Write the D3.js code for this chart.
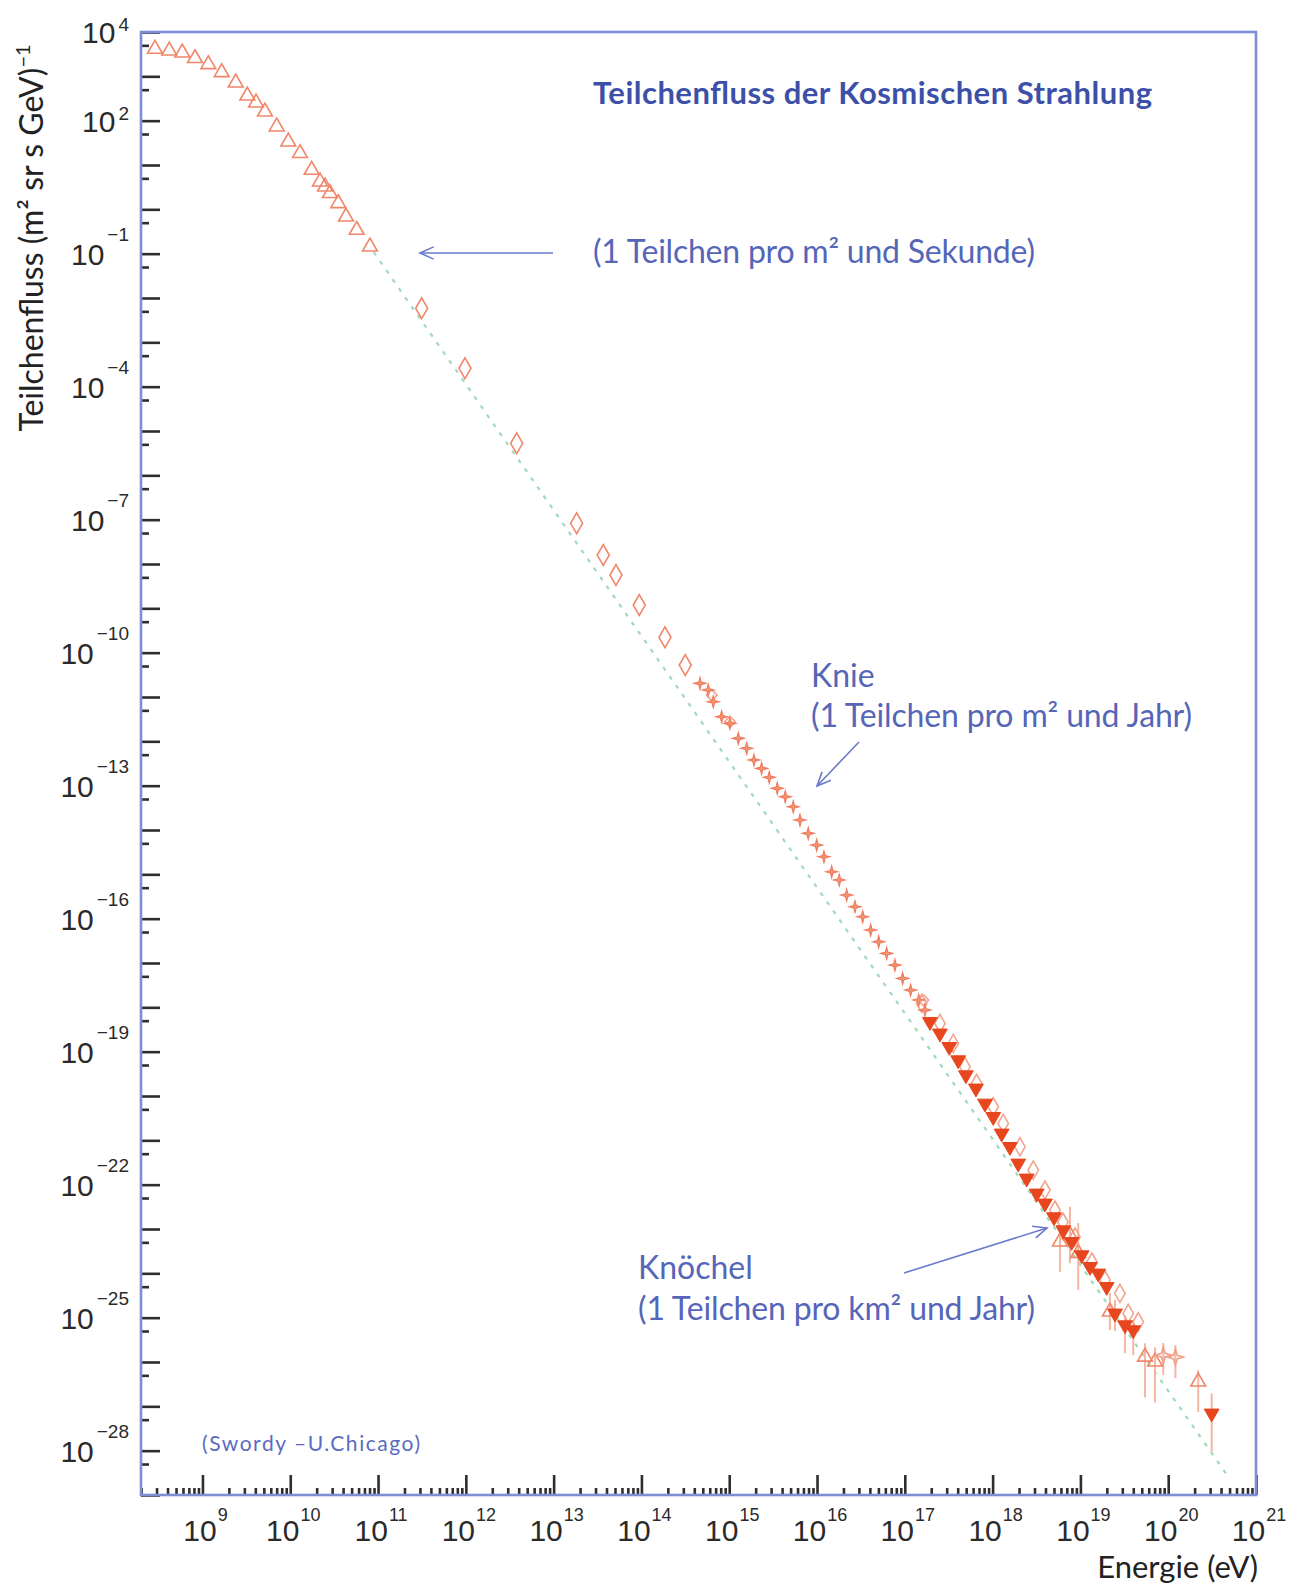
<!DOCTYPE html>
<html><head><meta charset="utf-8">
<script src="https://cdn.jsdelivr.net/npm/d3@7"></script>
<style>html,body{margin:0;padding:0;background:#fff}svg{display:block}</style>
</head><body>
<svg id="c" width="1292" height="1584"></svg>
<script>
// ---------- data (log10 of energy in eV, log10 of flux) ----------
const triLowLogE = [8.459, 8.622, 8.770, 8.915, 9.067, 9.219, 9.379, 9.511, 9.610, 9.712, 9.846, 9.978, 10.111, 10.244, 10.339, 10.396, 10.452, 10.547, 10.635, 10.757, 10.908];
const triLowLogF = [3.617, 3.578, 3.533, 3.407, 3.271, 3.091, 2.856, 2.563, 2.405, 2.202, 1.864, 1.525, 1.264, 0.887, 0.623, 0.510, 0.362, 0.136, -0.167, -0.467, -0.844];

const diamondLogE = [11.497, 11.990, 12.579, 13.262, 13.565, 13.710, 13.975, 14.268, 14.499];
const diamondLogF = [-2.233, -3.586, -5.278, -7.083, -7.798, -8.249, -8.926, -9.654, -10.279];

const starLogE = [14.667, 14.761, 14.818, 14.914, 15.008, 15.103, 15.199, 15.282, 15.369, 15.456, 15.547, 15.638, 15.729, 15.806, 15.900, 15.996, 16.079, 16.167, 16.253, 16.338, 16.432, 16.520, 16.611, 16.702, 16.793, 16.887, 16.975, 17.066, 17.158, 17.229];
const starLogF = [-10.692, -10.843, -11.107, -11.445, -11.595, -11.933, -12.158, -12.422, -12.610, -12.812, -13.061, -13.250, -13.476, -13.776, -14.076, -14.340, -14.604, -14.942, -15.129, -15.468, -15.731, -15.957, -16.257, -16.521, -16.783, -17.047, -17.347, -17.611, -17.836, -18.062];

const kneeOpenLogE = [14.800, 15.008, 17.210];
const kneeOpenLogF = [-10.956, -11.558, -17.836];

const openDiaLogE = [17.192, 17.400, 17.552, 17.685, 17.818, 18.007, 18.121, 18.311, 18.463, 18.596, 18.710, 18.801, 18.938, 19.131, 19.280, 19.450, 19.545, 19.659];
const openDiaLogF = [-17.911, -18.362, -18.813, -19.341, -19.715, -20.243, -20.618, -21.145, -21.671, -22.122, -22.573, -22.844, -23.182, -23.746, -24.152, -24.452, -24.904, -25.093];

const filledLogE = [17.286, 17.400, 17.506, 17.608, 17.696, 17.810, 17.913, 18.007, 18.103, 18.197, 18.292, 18.388, 18.502, 18.596, 18.699, 18.805, 18.900, 19.014, 19.109, 19.203, 19.299, 19.394, 19.508, 19.602, 20.495];
const filledLogF = [-18.325, -18.587, -18.890, -19.190, -19.528, -19.828, -20.167, -20.469, -20.843, -21.146, -21.520, -21.858, -22.197, -22.422, -22.731, -23.025, -23.288, -23.588, -23.852, -24.001, -24.303, -24.903, -25.167, -25.280, -27.159];
const filledErrHi = [null, null, null, null, null, null, null, null, null, null, null, null, null, null, null, null, null, null, null, null, null, -24.60, -24.95, -25.05, -26.708];
const filledErrLo = [null, null, null, null, null, null, null, null, null, null, null, null, null, null, null, null, null, null, null, null, null, -25.30, -25.80, -25.85, -28.025];

const triErrLogE = [18.767, 18.881, 18.975, 19.336, 19.735, 19.849, 20.342];
const triErrLogF = [-23.288, -23.137, -23.543, -24.867, -25.883, -25.995, -26.446];
const triErrHi = [-23.025, -22.499, -22.867, -24.446, -25.580, -25.671, -26.190];
const triErrLo = [-23.972, -23.776, -24.378, -25.280, -26.798, -26.911, -27.130];

const crossLogE = [19.944, 20.082];
const crossLogF = [-25.844, -25.889];
const crossErrHi = [-25.573, -25.618];
const crossErrLo = [-26.295, -26.363];

const fitLogE = [10.95, 20.70];
const fitLogF = [-0.966, -28.637];

const xLabelExps = [9, 10, 11, 12, 13, 14, 15, 16, 17, 18, 19, 20, 21];
const yLabelExps = [4, 2, -1, -4, -7, -10, -13, -16, -19, -22, -25, -28];

// ---------- layout ----------
const L = 141, R = 1256, T = 32, B = 1495;
const svg = d3.select("#c");
const x = d3.scaleLog().domain([Math.pow(10, 8.3), 1e21]).range([L, R]);
const y = d3.scaleLog().domain([1e-29, 1e4]).range([B, T]);
const P = v => Math.pow(10, v);

const frameCol = "#7d8dd6", tickCol = "#2e2e2e", blue = "#3d50a8", blueLight = "#5566b8";

// ---------- ticks via axes ----------
const xMajor = [], xMinor = [];
for (let n = 8; n <= 21; n++) {
  const v = P(n);
  if (v >= x.domain()[0] && v <= x.domain()[1] * 1.0001) xMajor.push(v);
  for (let k = 2; k <= 9; k++) { const m = k * P(n); if (m >= x.domain()[0] && m < x.domain()[1]) xMinor.push(m); }
}
const yMajor = [], yMinor = [];
for (let n = -29; n <= 4; n++) {
  yMajor.push(P(n));
  const m = 5 * P(n);
  if (m < 1e4) yMinor.push(m);
}

function styleAxis(g) {
  g.select(".domain").remove();
  g.selectAll(".tick line").attr("stroke", tickCol).attr("stroke-width", 2.6);
  g.selectAll(".tick text").remove();
}
svg.append("g").attr("transform", `translate(0,${B})`)
  .call(d3.axisBottom(x).tickValues(xMinor).tickSize(-7).tickFormat(() => "")).call(styleAxis);
svg.append("g").attr("transform", `translate(0,${B})`)
  .call(d3.axisBottom(x).tickValues(xMajor).tickSize(-20).tickFormat(() => "")).call(styleAxis);
svg.append("g").attr("transform", `translate(${L},0)`)
  .call(d3.axisLeft(y).tickValues(yMinor).tickSize(-8).tickFormat(() => "")).call(styleAxis);
svg.append("g").attr("transform", `translate(${L},0)`)
  .call(d3.axisLeft(y).tickValues(yMajor).tickSize(-19).tickFormat(() => "")).call(styleAxis);

// frame
svg.append("rect").attr("x", L).attr("y", T).attr("width", R - L).attr("height", B - T)
  .attr("fill", "none").attr("stroke", frameCol).attr("stroke-width", 2.6);

// tick labels
const tickFont = "'Liberation Sans', Arial, sans-serif";
const xl = svg.append("g").attr("font-family", tickFont).attr("fill", "#2a2a2a");
xLabelExps.forEach(e => {
  const t = xl.append("text").attr("x", x(P(e)) + 3).attr("y", 1541).attr("text-anchor", "middle").attr("font-size", 30);
  t.append("tspan").text("10");
  t.append("tspan").attr("font-size", 18).attr("dx", 1).attr("dy", -20).text(String(e));
});
const yl = svg.append("g").attr("font-family", tickFont).attr("fill", "#2a2a2a");
yLabelExps.forEach(e => {
  const t = yl.append("text").attr("x", 129).attr("y", y(P(e)) + 11).attr("text-anchor", "end").attr("font-size", 30);
  t.append("tspan").text("10");
  t.append("tspan").attr("font-size", 19).attr("dx", 3).attr("dy", e < 0 ? -24 : -12).text(e < 0 ? "\u2212" + (-e) : String(e));
});

// ---------- fit line ----------
const plot = svg.append("g");
plot.append("path")
  .datum(fitLogE.map((e, i) => [P(e), P(fitLogF[i])]))
  .attr("d", d3.line().x(d => x(d[0])).y(d => y(d[1])))
  .attr("fill", "none").attr("stroke", "#a2dab6").attr("stroke-width", 2.2).attr("stroke-dasharray", "4,7");

// ---------- error bars ----------
const errCol = "#f5b6a2";
function errBars(E, HI, LO) {
  E.forEach((e, i) => {
    if (HI[i] == null) return;
    plot.append("line").attr("x1", x(P(e))).attr("x2", x(P(e)))
      .attr("y1", y(P(HI[i]))).attr("y2", y(P(LO[i])))
      .attr("stroke", errCol).attr("stroke-width", 2);
  });
}
errBars(triErrLogE, triErrHi, triErrLo);
errBars(crossLogE, crossErrHi, crossErrLo);
errBars(filledLogE, filledErrHi, filledErrLo);

// ---------- markers ----------
const star4 = (outer, inner) => ({
  draw(ctx) {
    for (let k = 0; k < 8; k++) {
      const a = k * Math.PI / 4 - Math.PI / 2;
      const r = k % 2 === 0 ? outer : inner;
      const px = r * Math.cos(a), py = r * Math.sin(a);
      if (k === 0) ctx.moveTo(px, py); else ctx.lineTo(px, py);
    }
    ctx.closePath();
  }
});
function markers(E, F, symbolGen, opts) {
  plot.append("g").selectAll("path").data(E.map((e, i) => [P(e), P(F[i])])).join("path")
    .attr("transform", d => `translate(${x(d[0])},${y(d[1])})${opts.rot ? " rotate(" + opts.rot + ")" : ""}`)
    .attr("d", symbolGen)
    .attr("fill", opts.fill || "none")
    .attr("stroke", opts.stroke)
    .attr("stroke-width", opts.sw || 1.6);
}
const triSym = d3.symbol().type(d3.symbolTriangle).size(95);
markers(triLowLogE, triLowLogF, triSym, { stroke: "#f0866a" });
markers(diamondLogE, diamondLogF, d3.symbol().type(d3.symbolDiamond).size(125), { stroke: "#f0866a" });
markers(openDiaLogE, openDiaLogF, d3.symbol().type(d3.symbolDiamond).size(95), { stroke: "#f3a48e" });
markers(kneeOpenLogE, kneeOpenLogF, d3.symbol().type(d3.symbolSquare).size(60), { stroke: "#f3a48e", rot: 45 });
markers(starLogE, starLogF, d3.symbol().type(star4(6, 1.8)), { stroke: "#ef7a5a", fill: "#f29478", sw: 1.1 });
markers(triErrLogE, triErrLogF, triSym, { stroke: "#f0866a" });
markers(crossLogE, crossLogF, d3.symbol().type(star4(8, 2.6)), { stroke: "#f3a08a" });
markers(filledLogE, filledLogF, d3.symbol().type(d3.symbolTriangle).size(95), { stroke: "#e8461e", fill: "#e8461e", rot: 180, sw: 1 });

// ---------- texts ----------
const hum = "Lato, 'Open Sans', sans-serif";
svg.append("text").attr("x", 593).attr("y", 104).attr("font-family", hum).attr("font-weight", 700)
  .attr("font-size", 31).attr("fill", blue).attr("textLength", 559).attr("lengthAdjust", "spacing")
  .text("Teilchenfluss der Kosmischen Strahlung");

function note(tx, xx, yy, w) {
  const t = svg.append("text").attr("x", xx).attr("y", yy).attr("font-family", hum)
    .attr("font-size", 32).attr("fill", blueLight).text(tx);
  if (w) t.attr("textLength", w).attr("lengthAdjust", "spacing");
}
note("(1 Teilchen pro m\u00B2 und Sekunde)", 593, 263, 442);
note("Knie", 811, 687);
note("(1 Teilchen pro m\u00B2 und Jahr)", 811, 727, 381);
note("Kn\u00F6chel", 638, 1279);
note("(1 Teilchen pro km\u00B2 und Jahr)", 638, 1320, 397);

svg.append("text").attr("x", 202).attr("y", 1451).attr("font-family", hum).attr("font-size", 21)
  .attr("fill", "#5a6bc0").attr("textLength", 218).attr("lengthAdjust", "spacing")
  .text("(Swordy \u2013U.Chicago)");

// arrows
function arrow(x1, y1, x2, y2) {
  const g = svg.append("g").attr("stroke", "#6a7bcc").attr("stroke-width", 1.6).attr("fill", "none");
  g.append("line").attr("x1", x1).attr("y1", y1).attr("x2", x2).attr("y2", y2);
  const a = Math.atan2(y1 - y2, x1 - x2), h = 15, s = 0.42;
  g.append("path").attr("d", `M${x2 + h * Math.cos(a + s)},${y2 + h * Math.sin(a + s)}L${x2},${y2}L${x2 + h * Math.cos(a - s)},${y2 + h * Math.sin(a - s)}`);
}
arrow(553, 253, 420, 253);
arrow(859, 742, 817, 786);
arrow(904, 1273, 1047, 1228);

// axis titles
svg.append("text").attr("x", 1258).attr("y", 1578).attr("text-anchor", "end").attr("font-family", hum)
  .attr("font-size", 31).attr("fill", "#222").text("Energie (eV)");
const yt = svg.append("text").attr("transform", "translate(43,238) rotate(-90)").attr("text-anchor", "middle")
  .attr("font-family", hum).attr("font-size", 32).attr("fill", "#222");
yt.append("tspan").text("Teilchenfluss (m\u00B2 sr s GeV)");
yt.append("tspan").attr("font-size", 20).attr("dy", -13).text("\u22121");
</script>
</body></html>
